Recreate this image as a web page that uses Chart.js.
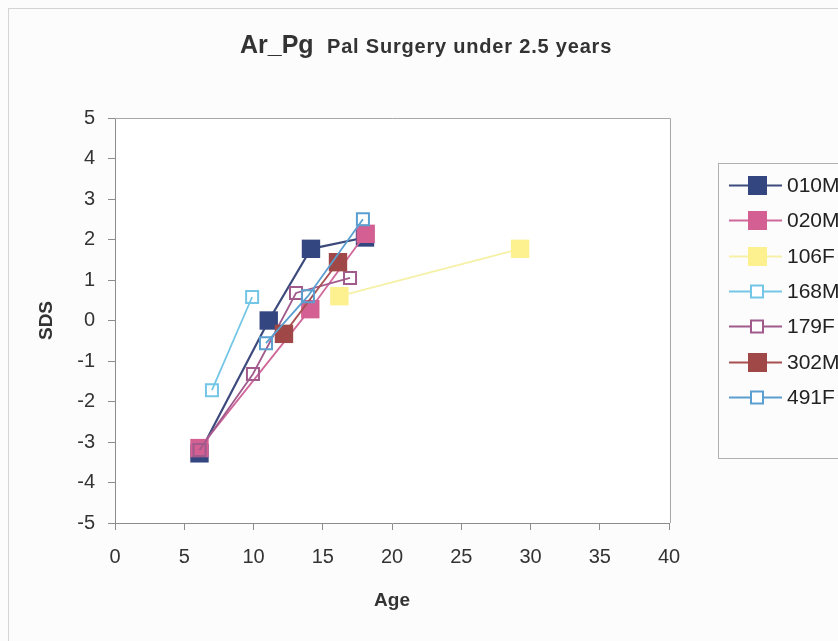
<!DOCTYPE html>
<html>
<head>
<meta charset="utf-8">
<script src="https://cdn.jsdelivr.net/npm/chart.js@4"></script>
<style>
  html, body { margin: 0; padding: 0; background: #fcfcfc; }
  #wrap { width: 838px; height: 641px; }
</style>
</head>
<body>
<div id="wrap"><canvas id="sdsChart" width="838" height="641"></canvas></div>
<script>
// series (age in years, SDS)
const seriesNames = ['010M', '020M', '106F', '168M', '179F', '302M', '491F'];

const age010M = [6.1, 11.1, 14.15, 18.05];
const sds010M = [-3.28, 0.0, 1.77, 2.05];

const age020M = [6.1, 14.1, 18.1];
const sds020M = [-3.15, 0.28, 2.14];

const age106F = [16.2, 29.25];
const sds106F = [0.6, 1.77];

const age168M = [7.0, 9.9];
const sds168M = [-1.72, 0.58];

const age179F = [6.1, 9.96, 13.07, 16.97];
const sds179F = [-3.2, -1.32, 0.68, 1.05];

const age302M = [12.2, 16.1];
const sds302M = [-0.33, 1.44];

const age491F = [10.9, 13.93, 17.9];
const sds491F = [-0.56, 0.6, 2.5];

const xTicks = [0, 5, 10, 15, 20, 25, 30, 35, 40];
const yTicks = [-5, -4, -3, -2, -1, 0, 1, 2, 3, 4, 5];

const ages = [age010M, age020M, age106F, age168M, age179F, age302M, age491F];
const sdss = [sds010M, sds020M, sds106F, sds168M, sds179F, sds302M, sds491F];

// look of each series
const lineColors = ['#3d4a7c', '#d0679a', '#f6f1a6', '#74c6e6', '#a05a8c', '#a85050', '#5a9fd0'];
const fillColors = ['#34467f', '#d35f93', '#fdf08e', 'rgba(0,0,0,0)', 'rgba(0,0,0,0)', '#a04848', 'rgba(0,0,0,0)'];
const filled = [true, true, true, false, false, true, false];

function toPoints(xs, ys) {
  return xs.map((x, i) => ({ x: x, y: ys[i] }));
}

const datasets = seriesNames.map((name, i) => ({
  label: name,
  data: toPoints(ages[i], sdss[i]),
  showLine: true,
  borderColor: lineColors[i],
  borderWidth: i === 0 ? 2.2 : 1.8,
  pointStyle: 'rect',
  pointRadius: filled[i] ? 13 : 8.5,
  pointHoverRadius: filled[i] ? 13 : 8.5,
  pointBackgroundColor: fillColors[i],
  pointBorderColor: filled[i] ? fillColors[i] : lineColors[i],
  pointBorderWidth: filled[i] ? 0 : 2,
  order: seriesNames.length - i,
}));

const frame = {
  id: 'frame',
  beforeDraw(chart) {
    const { ctx, chartArea: a } = chart;
    ctx.save();
    ctx.fillStyle = '#fcfcfc';
    ctx.fillRect(0, 0, chart.width, chart.height);
    ctx.strokeStyle = '#d4d4d4';
    ctx.lineWidth = 1;
    ctx.strokeRect(8.5, 8.5, chart.width, chart.height);
    ctx.fillStyle = '#ffffff';
    ctx.fillRect(a.left, a.top, a.right - a.left, a.bottom - a.top);
    ctx.restore();
  },
  afterDraw(chart) {
    const { ctx, chartArea: a } = chart;
    ctx.save();
    // plot area border (top and right)
    ctx.strokeStyle = '#a8a8a8';
    ctx.lineWidth = 1;
    ctx.beginPath();
    ctx.moveTo(a.left, a.top + 0.5);
    ctx.lineTo(a.right + 1.5, a.top + 0.5);
    ctx.lineTo(a.right + 1.5, a.bottom);
    ctx.stroke();

    // title, two sizes
    ctx.fillStyle = '#333333';
    ctx.textBaseline = 'alphabetic';
    ctx.font = 'bold 25px "Liberation Sans", Arial, sans-serif';
    ctx.fillText('Ar_Pg', 240, 53);
    ctx.font = 'bold 20px "Liberation Sans", Arial, sans-serif';
    ctx.letterSpacing = '0.8px';
    ctx.fillText('Pal Surgery under 2.5 years', 327, 53);
    ctx.letterSpacing = '0px';

    // legend
    ctx.strokeStyle = '#b0b0b0';
    ctx.strokeRect(718.5, 163.5, 140, 295);
    ctx.font = '21px "Liberation Sans", Arial, sans-serif';
    ctx.textBaseline = 'middle';
    chart.data.datasets.forEach((ds, i) => {
      const cy = Math.round(185 + i * 35.3) + 0.5;
      ctx.strokeStyle = ds.borderColor;
      ctx.lineWidth = 2;
      ctx.beginPath();
      ctx.moveTo(729, cy);
      ctx.lineTo(782, cy);
      ctx.stroke();
      if (filled[i]) {
        ctx.fillStyle = ds.pointBackgroundColor;
        ctx.fillRect(748, cy - 9.5, 19, 19);
      } else {
        ctx.fillStyle = '#ffffff';
        ctx.fillRect(751, cy - 6, 12, 12);
        ctx.strokeRect(751, cy - 6, 12, 12);
      }
      ctx.fillStyle = '#222222';
      ctx.fillText(ds.label, 787, cy + 1);
    });
    ctx.restore();
  },
};

const tickFont = { family: '"Liberation Sans", Arial, sans-serif', size: 20 };
const titleFont = { family: '"Liberation Sans", Arial, sans-serif', size: 19, weight: 'bold' };

new Chart(document.getElementById('sdsChart').getContext('2d'), {
  type: 'scatter',
  data: { datasets: datasets },
  options: {
    responsive: false,
    animation: false,
    layout: { padding: { left: 0, top: 118, right: 169, bottom: 0 } },
    plugins: {
      legend: { display: false },
      title: { display: false },
      tooltip: { enabled: false },
    },
    scales: {
      x: {
        type: 'linear',
        min: 0,
        max: 40,
        afterFit(scale) { scale.height = 118; },
        afterBuildTicks(scale) { scale.ticks = xTicks.map((v) => ({ value: v })); },
        grid: { drawOnChartArea: false, tickLength: 7, color: '#8c8c8c' },
        border: { color: '#8c8c8c' },
        ticks: { font: tickFont, color: '#333333', padding: 15, maxRotation: 0 },
        title: { display: true, text: 'Age', font: titleFont, color: '#333333', padding: { top: 0, bottom: 29 } },
      },
      y: {
        min: -5,
        max: 5,
        afterFit(scale) { scale.width = 115; },
        afterBuildTicks(scale) { scale.ticks = yTicks.map((v) => ({ value: v })); },
        grid: { drawOnChartArea: false, tickLength: 7, color: '#8c8c8c' },
        border: { color: '#8c8c8c' },
        ticks: { font: tickFont, color: '#333333', padding: 13 },
        title: { display: true, text: 'SDS', font: titleFont, color: '#333333', padding: { top: 35, bottom: 0 } },
      },
    },
  },
  plugins: [frame],
});
</script>
</body>
</html>
